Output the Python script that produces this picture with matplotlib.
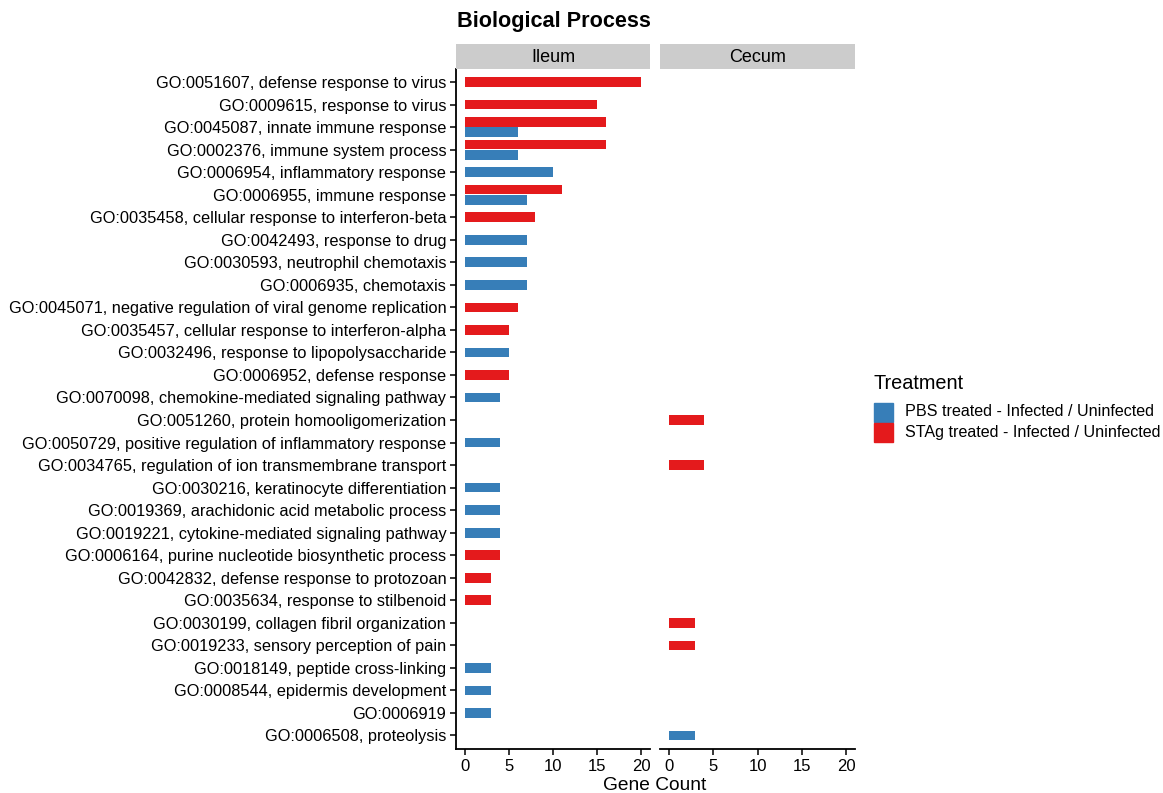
import numpy as np
import matplotlib.pyplot as plt

plt.rcParams['font.family'] = ['Liberation Sans', 'DejaVu Sans']

# GO terms, top to bottom
go_terms = [
    "GO:0051607, defense response to virus",
    "GO:0009615, response to virus",
    "GO:0045087, innate immune response",
    "GO:0002376, immune system process",
    "GO:0006954, inflammatory response",
    "GO:0006955, immune response",
    "GO:0035458, cellular response to interferon-beta",
    "GO:0042493, response to drug",
    "GO:0030593, neutrophil chemotaxis",
    "GO:0006935, chemotaxis",
    "GO:0045071, negative regulation of viral genome replication",
    "GO:0035457, cellular response to interferon-alpha",
    "GO:0032496, response to lipopolysaccharide",
    "GO:0006952, defense response",
    "GO:0070098, chemokine-mediated signaling pathway",
    "GO:0051260, protein homooligomerization",
    "GO:0050729, positive regulation of inflammatory response",
    "GO:0034765, regulation of ion transmembrane transport",
    "GO:0030216, keratinocyte differentiation",
    "GO:0019369, arachidonic acid metabolic process",
    "GO:0019221, cytokine-mediated signaling pathway",
    "GO:0006164, purine nucleotide biosynthetic process",
    "GO:0042832, defense response to protozoan",
    "GO:0035634, response to stilbenoid",
    "GO:0030199, collagen fibril organization",
    "GO:0019233, sensory perception of pain",
    "GO:0018149, peptide cross-linking",
    "GO:0008544, epidermis development",
    "GO:0006919",
    "GO:0006508, proteolysis",
]

# gene counts (0 = not enriched)
ileum_stag = [20, 15, 16, 16, 0, 11, 8, 0, 0, 0, 6, 5, 0, 5, 0,
              0, 0, 0, 0, 0, 0, 4, 3, 3, 0, 0, 0, 0, 0, 0]
ileum_pbs = [0, 0, 6, 6, 10, 7, 0, 7, 7, 7, 0, 0, 5, 0, 4,
             0, 4, 0, 4, 4, 4, 0, 0, 0, 0, 0, 3, 3, 3, 0]
cecum_stag = [0, 0, 0, 0, 0, 0, 0, 0, 0, 0, 0, 0, 0, 0, 0,
              4, 0, 4, 0, 0, 0, 0, 0, 0, 3, 3, 0, 0, 0, 0]
cecum_pbs = [0, 0, 0, 0, 0, 0, 0, 0, 0, 0, 0, 0, 0, 0, 0,
             0, 0, 0, 0, 0, 0, 0, 0, 0, 0, 0, 0, 0, 0, 3]

tissues = ["Ileum", "Cecum"]
blue = "#377EB8"
red = "#E41A1C"

fig = plt.figure(figsize=(11.63, 7.93), dpi=100)
W, H = 1163, 793

panel_top, panel_bot = 68.5, 749
panels = [(456, 650), (660, 855)]
n = len(go_terms)
bh = 0.43

axes = []
for k, (tissue, stag, pbs) in enumerate(zip(tissues, [ileum_stag, cecum_stag], [ileum_pbs, cecum_pbs])):
    x0, x1 = panels[k]
    ax = fig.add_axes([x0 / W, 1 - panel_bot / H, (x1 - x0) / W, (panel_bot - panel_top) / H])
    for i in range(n):
        s, p = stag[i], pbs[i]
        if s and p:
            ax.barh(i - 0.225, s, height=bh, color=red)
            ax.barh(i + 0.225, p, height=bh, color=blue)
        elif s:
            ax.barh(i, s, height=bh, color=red)
        elif p:
            ax.barh(i, p, height=bh, color=blue)
    ax.set_xlim(-1, 21)
    ax.set_ylim(n - 0.4, -0.6)
    ax.set_xticks([0, 5, 10, 15, 20])
    ax.set_yticks(range(n))
    for sp in ['top', 'right']:
        ax.spines[sp].set_visible(False)
    ax.spines['bottom'].set_linewidth(1.3)
    ax.spines['left'].set_linewidth(1.3)
    ax.tick_params(axis='x', labelsize=12, length=4, width=1.1, pad=3, colors='black')
    if k == 0:
        ax.set_yticklabels(go_terms, fontsize=11.8)
        ax.tick_params(axis='y', length=4, width=1.1, pad=3)
    else:
        ax.set_yticklabels([])
        ax.tick_params(axis='y', length=0)
        ax.spines['left'].set_visible(False)
    # strip
    sax = fig.add_axes([x0 / W, 1 - 69 / H, (x1 - x0) / W, 25 / H])
    sax.set_facecolor("#CCCCCC")
    sax.set_xticks([])
    sax.set_yticks([])
    for sp in sax.spines.values():
        sp.set_visible(False)
    sax.text(0.5, 0.48, tissue, ha='center', va='center', fontsize=13, transform=sax.transAxes)
    axes.append(ax)

fig.text(554 / W, 1 - 21 / H, "Biological Process", ha='center', va='center',
         fontsize=15.6, fontweight='bold')
fig.text(655 / W, 1 - 786 / H, "Gene Count", ha='center', va='center', fontsize=13.8)

# legend
fig.text(873 / W, 1 - 383 / H, "Treatment", ha='left', va='center', fontsize=14.3)
legend_items = [("PBS treated - Infected / Uninfected", blue, 412),
                ("STAg treated - Infected / Uninfected", red, 432)]
for label, col, yc in legend_items:
    fig.patches.append(plt.Rectangle((874 / W, 1 - (yc + 9.5) / H), 19 / W, 19 / H,
                                     transform=fig.transFigure, color=col))
    fig.text(905 / W, 1 - yc / H, label, ha='left', va='center', fontsize=11.6)

plt.savefig("out.png", dpi=100)
